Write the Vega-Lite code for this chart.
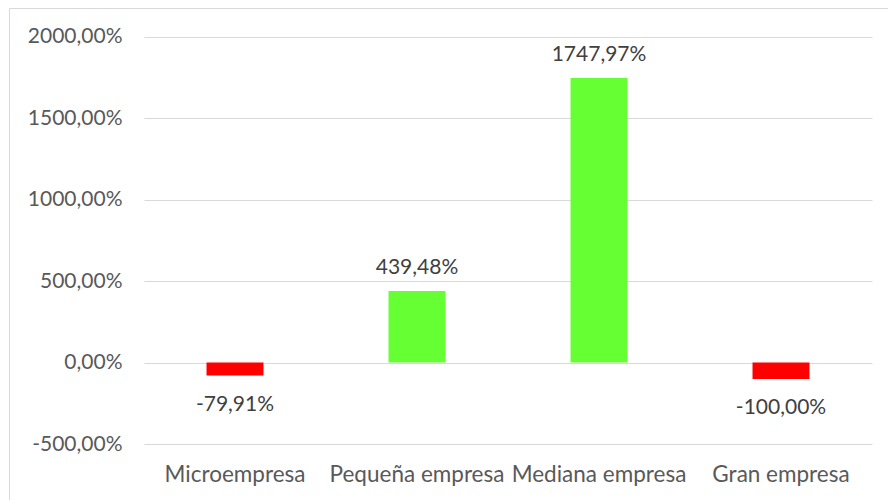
{
  "$schema": "https://vega.github.io/schema/vega-lite/v6.json",
  "width": 899,
  "height": 512,
  "autosize": "none",
  "padding": {"left": 9, "top": 8, "right": 0, "bottom": 0},
  "background": "white",
  "config": {"view": {"stroke": "#d9d9d9", "strokeWidth": 1}, "font": "Lato"},
  "data": {
    "values": [
      {"cat": "Microempresa", "v": -79.91, "label": "-79,91%"},
      {"cat": "Pequeña empresa", "v": 439.48, "label": "439,48%"},
      {"cat": "Mediana empresa", "v": 1747.97, "label": "1747,97%"},
      {"cat": "Gran empresa", "v": -100.0, "label": "-100,00%"}
    ]
  },
  "encoding": {
    "x": {
      "field": "cat",
      "type": "nominal",
      "sort": null,
      "scale": {"range": [135, 863], "paddingInner": 0.687, "paddingOuter": 0.3435},
      "axis": {
        "title": null,
        "labelAngle": 0,
        "domain": false,
        "ticks": false,
        "grid": false,
        "offset": -76,
        "labelPadding": 19,
        "labelFontSize": 22.5,
        "labelColor": "#595959",
        "labelFont": "Lato"
      }
    },
    "y": {
      "field": "v",
      "type": "quantitative",
      "scale": {"domain": [-966.83, 2178.13], "nice": false, "zero": false},
      "axis": {
        "title": null,
        "values": [-500, 0, 500, 1000, 1500, 2000],
        "grid": true,
        "gridColor": "#d9d9d9",
        "gridWidth": 1,
        "domain": false,
        "ticks": false,
        "offset": -135,
        "labelPadding": 22,
        "labelFontSize": 21,
        "labelColor": "#595959",
        "labelFont": "Lato",
        "labelExpr": "replace(replace(format(datum.value, '.2f'), '.', ','), '\u2212', '-') + '%'"
      }
    }
  },
  "layer": [
    {
      "mark": {"type": "bar"},
      "encoding": {
        "color": {
          "condition": {"test": "datum.v < 0", "value": "#ff0000"},
          "value": "#66ff33"
        }
      }
    },
    {
      "transform": [{"filter": "datum.v >= 0"}],
      "mark": {"type": "text", "baseline": "alphabetic", "dy": -17.5, "fontSize": 21, "color": "#404040", "font": "Lato"},
      "encoding": {"text": {"field": "label"}}
    },
    {
      "transform": [{"filter": "datum.v < 0"}],
      "mark": {"type": "text", "baseline": "alphabetic", "dy": 35, "fontSize": 21, "color": "#404040", "font": "Lato"},
      "encoding": {"text": {"field": "label"}}
    }
  ]
}
